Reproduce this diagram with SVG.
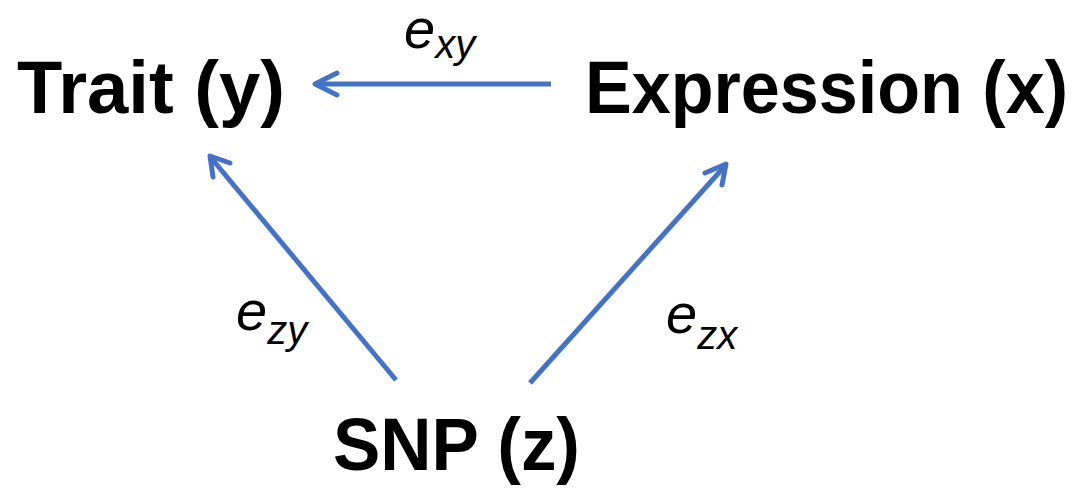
<svg xmlns="http://www.w3.org/2000/svg" width="1081" height="489" viewBox="0 0 1081 489">
<style>
.node{font-family:"Liberation Sans",Arial,sans-serif;font-weight:bold;font-size:74px;fill:#000}
.lbl{font-family:"Liberation Sans",Arial,sans-serif;font-style:italic;fill:#000}
.e{font-size:56px}
.sub{font-size:40px}
.conn{stroke:#4472C4;stroke-width:5;fill:none}
.head{stroke:#4472C4;stroke-width:5;fill:none;stroke-linecap:round;stroke-linejoin:round}
</style>
<rect width="1081" height="489" fill="#fff"/>
<g id="trait"><text class="node" x="17" y="113" textLength="268" lengthAdjust="spacingAndGlyphs">Trait (y)</text></g>
<g id="expression"><text class="node" x="585" y="113" textLength="483" lengthAdjust="spacingAndGlyphs">Expression (x)</text></g>
<g id="snp"><text class="node" x="333" y="470" textLength="247" lengthAdjust="spacingAndGlyphs">SNP (z)</text></g>
<g id="connectors">
<line class="conn" x1="551" y1="84" x2="318" y2="84"/>
<polyline class="head" points="337,73 315,84 337,95"/>
<line class="conn" x1="396" y1="380" x2="212" y2="159"/>
<polyline class="head" points="213,177 210,156 230,163"/>
<line class="conn" x1="530" y1="383" x2="724" y2="167"/>
<polyline class="head" points="705,173 726,164 722,185"/>
</g>
<g id="labels">
<text class="lbl" x="404" y="48"><tspan class="e">e</tspan><tspan class="sub" dy="10">xy</tspan></text>
<text class="lbl" x="236" y="330"><tspan class="e">e</tspan><tspan class="sub" dy="14">zy</tspan></text>
<text class="lbl" x="666" y="333"><tspan class="e">e</tspan><tspan class="sub" dy="16">zx</tspan></text>
</g>
</svg>
